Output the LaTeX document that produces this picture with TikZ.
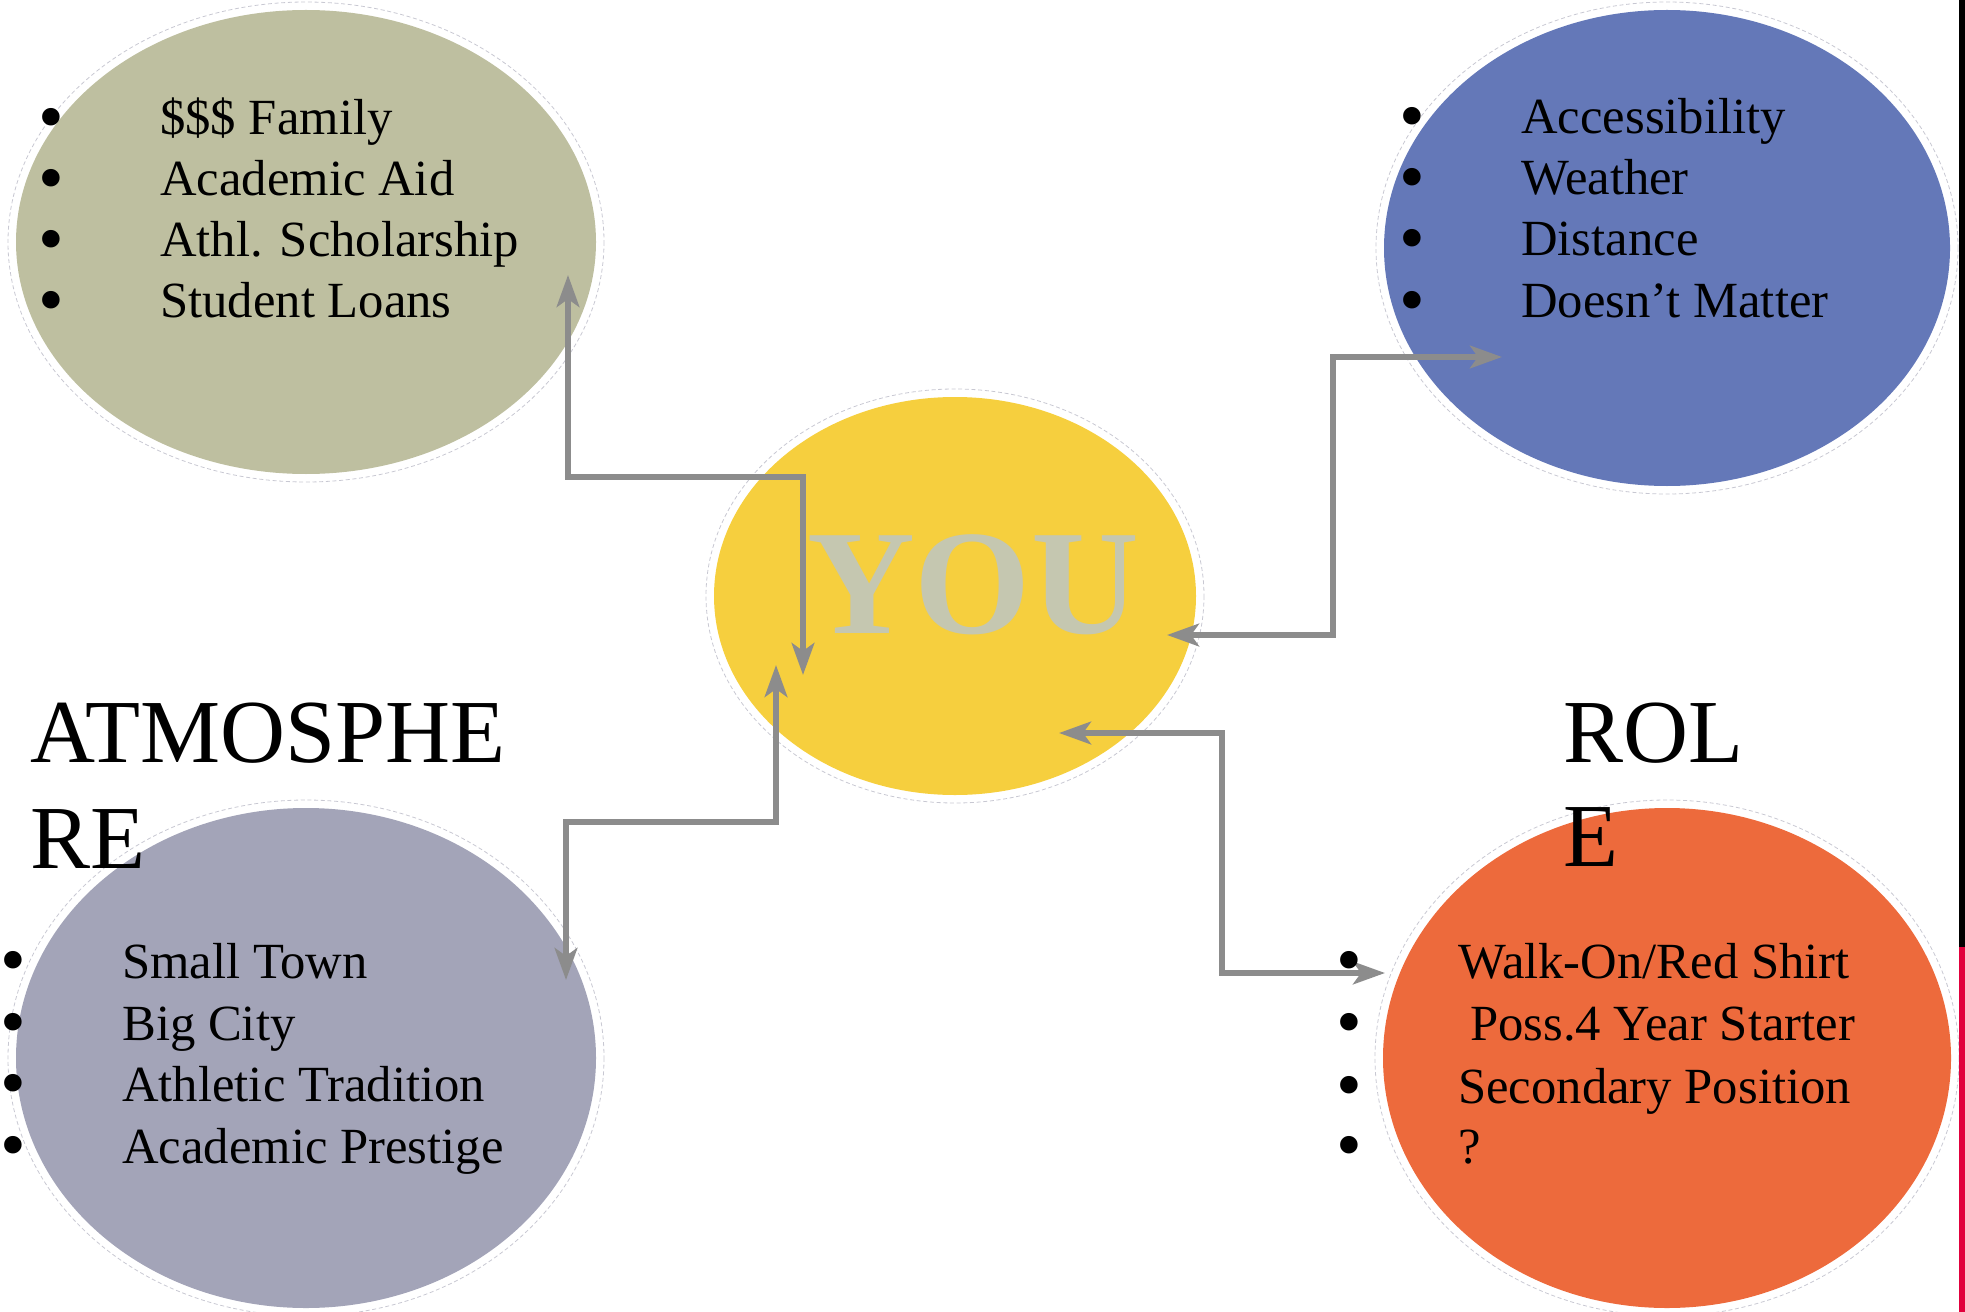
\documentclass[tikz,border=0pt]{standalone}
\usepackage{fontspec}
\setmainfont{Liberation Serif}
\usetikzlibrary{shapes.geometric,arrows.meta}
\definecolor{greenoval}{RGB}{190,191,160}
\definecolor{blueoval}{RGB}{100,120,184}
\definecolor{yellowoval}{RGB}{246,207,62}
\definecolor{grayoval}{RGB}{163,164,184}
\definecolor{orangeoval}{RGB}{237,106,60}
\definecolor{linkgray}{RGB}{140,140,140}
\definecolor{yougray}{RGB}{197,199,176}
\definecolor{edgered}{RGB}{225,0,60}
\newcommand{\bul}{\makebox[91.5pt][l]{\smash{\raisebox{-5pt}{\scalebox{1.45}{\textbullet}}}}}

\tikzset{
	oval/.style={ellipse, draw=none, inner sep=0pt, outer sep=0pt},
	halo/.style={draw={rgb, 255:red, 200; green, 200; blue, 210}, line width=0.6pt, dash pattern={on 3pt off 2pt}},
	item/.style={anchor=base west, inner sep=0pt, font=\fontsize{38}{46}\selectfont},
	head/.style={anchor=base west, inner sep=0pt, font=\fontsize{67.5}{80}\selectfont},
	link/.style={draw=linkgray, line width=4pt, {Stealth[length=24pt,width=17pt,inset=6pt]}-{Stealth[length=24pt,width=17pt,inset=6pt]}}
}

\begin{document}
\begin{tikzpicture}[x=0.75pt,y=0.75pt,yscale=-1,xscale=1]
	%set diagram left start at 0, width 1965 and height 1312
	\useasboundingbox (0,0) rectangle (1965,1312);
	
	%Shape: Ellipse [money]
	\node[oval, fill=greenoval, minimum width=435pt, minimum height=348pt] (money) at (306,242) {};
	\draw[halo] (money.center) ellipse [x radius=298, y radius=240];
	%Shape: Ellipse [place]
	\node[oval, fill=blueoval, minimum width=424.5pt, minimum height=357pt] (place) at (1667,248) {};
	\draw[halo] (place.center) ellipse [x radius=291, y radius=246];
	%Shape: Ellipse [you]
	\node[oval, fill=yellowoval, minimum width=361.5pt, minimum height=298.5pt] (you) at (955,596) {};
	\draw[halo] (you.center) ellipse [x radius=249, y radius=207];
	%Shape: Ellipse [atmos]
	\node[oval, fill=grayoval, minimum width=435pt, minimum height=375pt] (atmos) at (306,1058) {};
	\draw[halo] (atmos.center) ellipse [x radius=298, y radius=258];
	%Shape: Ellipse [role]
	\node[oval, fill=orangeoval, minimum width=426pt, minimum height=375pt] (role) at (1667,1058) {};
	\draw[halo] (role.center) ellipse [x radius=292, y radius=258];
	
	%Shape: right edge strip
	\fill[black] (1959,0) rectangle (1965,947);
	\fill[edgered] (1959,947) rectangle (1965,1312);
	
	% Text Node
	\node[anchor=base, inner sep=0pt, text=yougray, font=\fontsize{112}{120}\selectfont\bfseries] (youtext) at (973,633) {YOU};
	
	%Arrow ends
	\coordinate (youM) at (803,675);
	\coordinate (moneyY) at (568,275);
	\coordinate (youP) at (1167,635);
	\coordinate (placeY) at (1502,357);
	\coordinate (youA) at (776,665);
	\coordinate (atmosY) at (566,980);
	\coordinate (youR) at (1059,733);
	\coordinate (roleY) at (1385,973);
	
	%Straight Lines [you - money]
	\draw[link] (youM) -- ++(0,-198) -| (moneyY);
	%Straight Lines [you - place]
	\draw[link] (youP) -- ++(166,0) |- (placeY);
	%Straight Lines [you - atmos]
	\draw[link] (youA) -- ++(0,157) -| (atmosY);
	%Straight Lines [you - role]
	\draw[link] (youR) -- ++(163,0) |- (roleY);
	
	% Text Node
	\node[item] (m1) at (38,135) {\bul\$\$\$ Family};
	\node[item] (m2) at (38,196) {\bul Academic Aid};
	\node[item] (m3) at (38,257) {\bul Athl. Scholarship};
	\node[item] (m4) at (38,318) {\bul Student Loans};
	% Text Node
	\node[item] (p1) at (1399,134) {\bul Accessibility};
	\node[item] (p2) at (1399,195) {\bul Weather};
	\node[item] (p3) at (1399,256) {\bul Distance};
	\node[item] (p4) at (1399,318) {\bul Doesn't Matter};
	% Text Node
	\node[head] (atmoshead) at (30,762) {ATMOSPHE};
	\node[head] (atmoshead2) at (30,868) {RE};
	\node[item] (a1) at (0,978) {\bul Small Town};
	\node[item] (a2) at (0,1040) {\bul Big City};
	\node[item] (a3) at (0,1101) {\bul Athletic Tradition};
	\node[item] (a4) at (0,1163) {\bul Academic Prestige};
	% Text Node
	\node[head] (rolehead) at (1563,762) {ROL};
	\node[head] (rolehead2) at (1563,866) {E};
	\node[item] (r1) at (1336,978) {\bul Walk-On/Red Shirt};
	\node[item] (r2) at (1336,1040) {\bul\hspace{9pt}Poss.4 Year Starter};
	\node[item] (r3) at (1336,1103) {\bul Secondary Position};
	\node[item] (r4) at (1336,1163) {\bul ?};
	
\end{tikzpicture}
\end{document}
